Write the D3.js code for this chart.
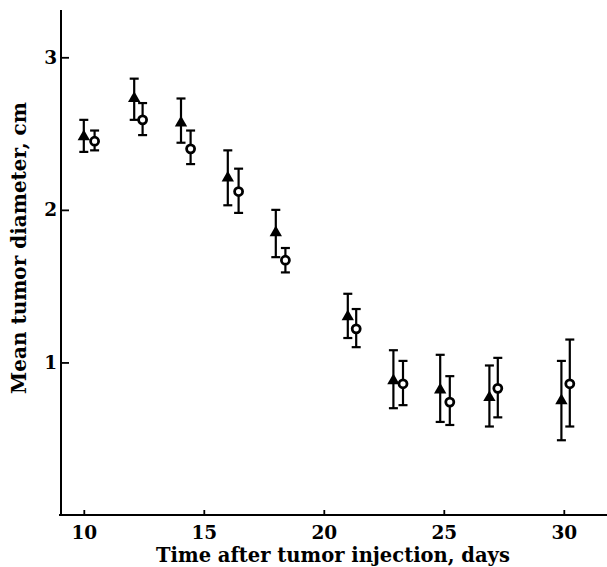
<!DOCTYPE html>
<html>
<head>
<meta charset="utf-8">
<script src="https://cdn.jsdelivr.net/npm/d3@7"></script>
<style>
  html, body { margin: 0; padding: 0; background: #fff; }
  svg { display: block; }
</style>
</head>
<body>
<svg id="chart" width="607" height="567"></svg>
<script>
// Series 1: filled triangles
const daysTri   = [10, 12.1, 14.05, 16, 18, 21, 22.9, 24.85, 26.9, 29.9];
const triMean   = [2.48, 2.73, 2.57, 2.21, 1.85, 1.30, 0.88, 0.82, 0.77, 0.75];
const triUpper  = [2.59, 2.86, 2.73, 2.39, 2.00, 1.45, 1.08, 1.05, 0.98, 1.01];
const triLower  = [2.38, 2.59, 2.44, 2.03, 1.69, 1.16, 0.70, 0.61, 0.58, 0.49];
// Series 2: open circles
const daysCirc  = [10.45, 12.45, 14.45, 16.45, 18.4, 21.35, 23.3, 25.25, 27.25, 30.25];
const circMean  = [2.45, 2.59, 2.40, 2.12, 1.67, 1.22, 0.86, 0.74, 0.83, 0.86];
const circUpper = [2.52, 2.70, 2.52, 2.27, 1.75, 1.35, 1.01, 0.91, 1.03, 1.15];
const circLower = [2.39, 2.49, 2.30, 1.98, 1.59, 1.10, 0.72, 0.59, 0.64, 0.58];
// Ticks
const xTicks = [10, 15, 20, 25, 30];
const yTicks = [1, 2, 3];
const xTitle = "Time after tumor injection, days";
const yTitle = "Mean tumor diameter, cm";

(function () {
const svg = d3.select("#chart");
const mLeft = 61, mRight = 607, mTop = 10, mBottom = 515;
const x = d3.scaleLinear().domain([9.05, 31.8]).range([mLeft, mRight]);
const y = d3.scaleLinear().domain([0, 3.31]).range([mBottom, mTop]);

const font = "'DejaVu Serif', 'Liberation Serif', serif";

// axes
const gx = svg.append("g").attr("transform", `translate(0,${mBottom})`)
  .call(d3.axisBottom(x).tickValues(xTicks).tickFormat(d3.format("d"))
    .tickSizeInner(-5).tickSizeOuter(0).tickPadding(11));
const gy = svg.append("g").attr("transform", `translate(${mLeft},0)`)
  .call(d3.axisLeft(y).tickValues(yTicks).tickFormat(d3.format("d"))
    .tickSizeInner(-8).tickSizeOuter(0).tickPadding(4));
[gx, gy].forEach(g => {
  g.select(".domain").attr("stroke", "#000").attr("stroke-width", 2);
  g.selectAll(".tick line").attr("stroke", "#000").attr("stroke-width", 1.8);
  g.selectAll(".tick text").attr("fill", "#000").attr("font-family", font)
    .attr("font-size", 18.5).attr("font-weight", "bold");
});
gy.select(".domain").attr("d", `M0,${mTop}V${mBottom}`);
gx.select(".domain").attr("d", `M${mLeft - 2},0H${mRight}`);

// titles
svg.append("text").attr("x", 333).attr("y", 562).attr("text-anchor", "middle")
  .attr("font-family", font).attr("font-size", 19.5).attr("font-weight", "bold").text(xTitle);
svg.append("text").attr("transform", `translate(26,248) rotate(-90)`).attr("text-anchor", "middle")
  .attr("font-family", font).attr("font-size", 20).attr("font-weight", "bold").text(yTitle);

function errorBars(xs, lo, hi) {
  const g = svg.append("g").attr("stroke", "#000").attr("stroke-width", 2.2).attr("fill", "none");
  xs.forEach((d, i) => {
    const cx = x(d);
    g.append("line").attr("x1", cx).attr("x2", cx).attr("y1", y(lo[i])).attr("y2", y(hi[i]));
    g.append("line").attr("x1", cx - 4.5).attr("x2", cx + 4.5).attr("y1", y(lo[i])).attr("y2", y(lo[i]));
    g.append("line").attr("x1", cx - 4.5).attr("x2", cx + 4.5).attr("y1", y(hi[i])).attr("y2", y(hi[i]));
  });
}
errorBars(daysTri, triLower, triUpper);
errorBars(daysCirc, circLower, circUpper);

const tri = d3.symbol().type(d3.symbolTriangle).size(66);
svg.append("g").selectAll("path").data(daysTri).join("path")
  .attr("transform", (d, i) => `translate(${x(d)},${y(triMean[i])})`)
  .attr("d", tri).attr("fill", "#000");

svg.append("g").selectAll("circle").data(daysCirc).join("circle")
  .attr("cx", d => x(d)).attr("cy", (d, i) => y(circMean[i]))
  .attr("r", 4).attr("fill", "#fff").attr("stroke", "#000").attr("stroke-width", 2.8);
})();
</script>
</body>
</html>
